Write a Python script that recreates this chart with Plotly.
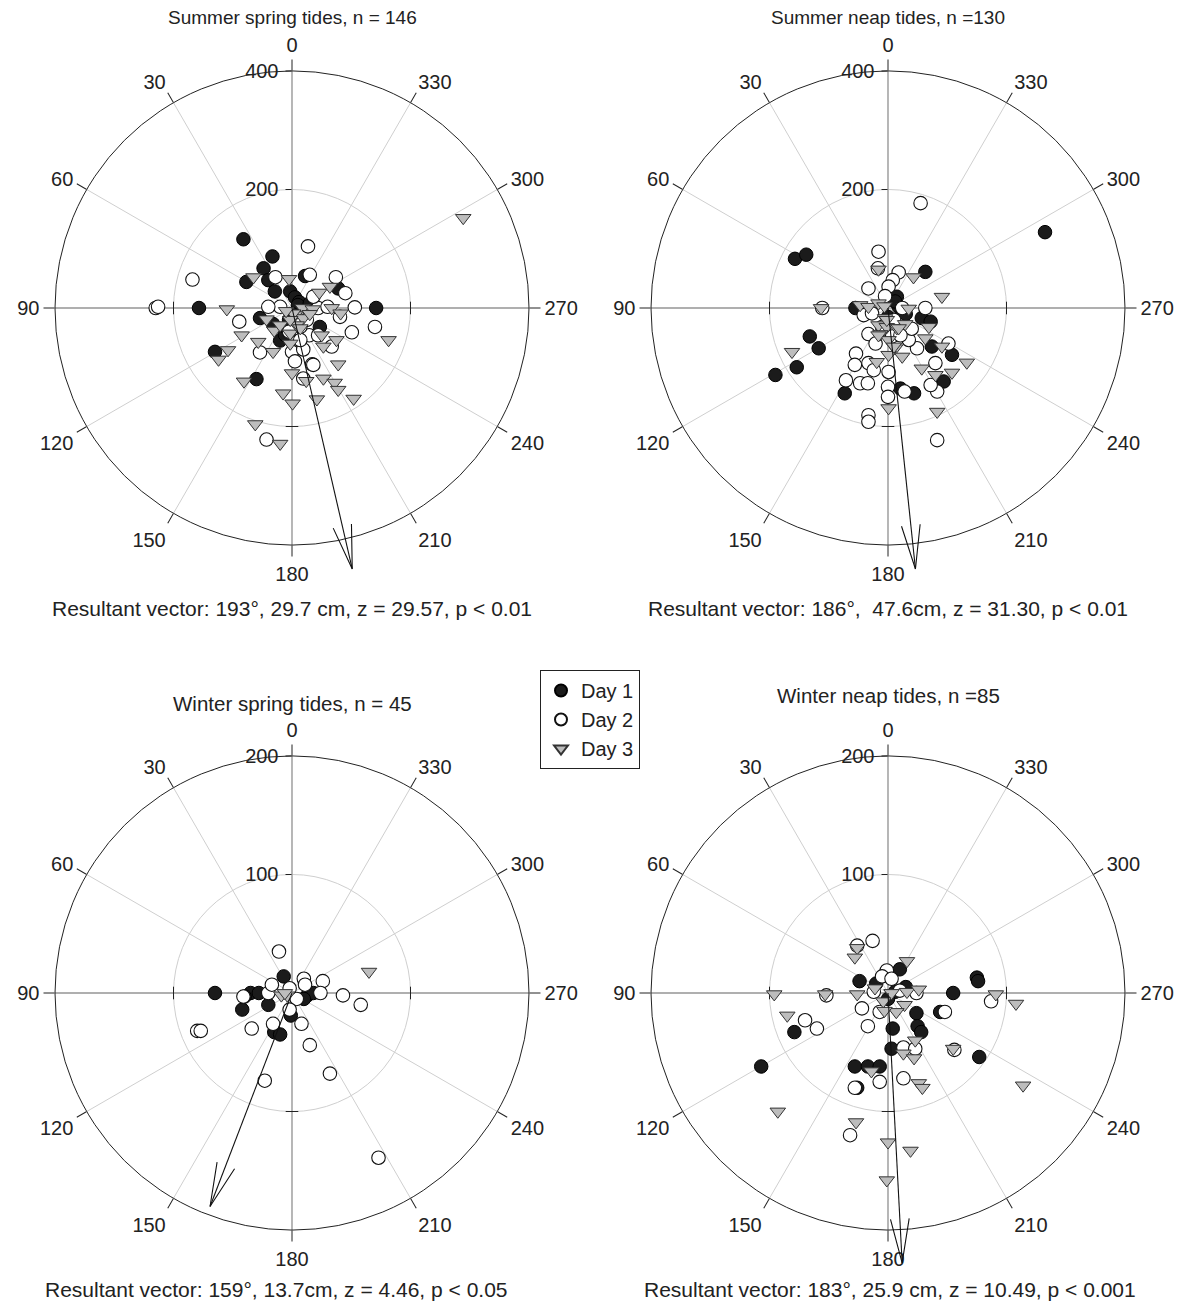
import numpy as np
import plotly.graph_objects as go

FONT = "Liberation Sans, Arial, Helvetica, sans-serif"
OFF = 8                      # page body margin of the rendered html
W, H = 1187 - OFF, 1303 - OFF

# ---------------- data ----------------
# Each point is a displacement: x toward 270 deg (right), y toward 0 deg (up), in axis units (cm)

# Summer spring tides
ss_d1_x = [-82, -33, -48, -77, -40, -29, -3, 5, 12, 22, 78, -157, 142, -54, -32, 47, -20, -12, -130, -60, 10, 30, -5, -8, 0]
ss_d1_y = [116, 87, 67, 44, 47, 28, 28, 18, 10, 54, 33, 0, 0, -17, -27, -32, -55, -45, -74, -120, 5, 8, -20, -35, -10]
ss_d2_x = [27, -168, -230, -226, -28, 30, 74, 90, 106, -89, 140, 101, 81, 44, 36, -20, -40, -54, 0, 19, 29, 34, 67, 19, -43,
           14, 14, 36, 44, 60, 10, 20, -5, 5, 25]
ss_d2_y = [104, 48, 0, 2, 52, 56, 52, 25, 1, -23, -32, -41, -15, 0, 19, 2, 2, -75, -74, -70, -46, -95, -65, -119, -222,
           -32, -54, -96, -46, 2, -15, -10, -40, -90, -20]
ss_d3_x = [-65, -5, 46, 64, -110, 18, 35, 67, 82, -43, -30, -85, -57, -32, -108, -124, -81, 0, 24, 53, 72, 78, 78, 104, 42,
           -15, 1, -62, -20, 50, 53, 75, 163, -3, 5, 19, 8, -20, -3, 2, 14, -3, 289, 30, -10]
ss_d3_y = [52, 49, 26, 36, -2, 0, -2, 0, -9, -19, -38, -46, -57, -74, -71, -87, -124, -110, -123, -119, -126, -95, -138, -153, -154,
           -144, -161, -196, -229, -46, -65, -54, -54, -43, -12, -17, -29, -29, -60, -9, -34, -20, 152, -10, -5]

# Summer neap tides
sn_d1_x = [-157, -138, 63, -55, 15, 18, 12, 25, 57, 72, 74, 108, 94, 21, 44, -73, -132, -117, -154, -190, 265, 30, 0]
sn_d1_y = [83, 90, 61, 0, 19, 2, 11, -5, -17, -23, -65, -79, -124, -136, -144, -144, -48, -68, -100, -113, 128, -10, -15]
sn_d2_x = [55, -16, -17, 18, 8, 1, -33, -41, 63, 24, -111, -33, -21, -54, -56, -33, -24, -71, -47, -34, 1, 0, 0, 28, 49,
           35, 102, 80, 83, 72, -33, -33, 83, 40, -10, 7, 21, -27, -5, 10]
sn_d2_y = [177, 95, 67, 60, 47, 36, 33, -12, 0, 0, 0, -44, -60, -77, -96, -93, -105, -122, -127, -127, -108, -133, -150, -141, -68,
           -54, -60, -93, -141, -130, -181, -192, -223, -35, -32, -48, -46, -9, 20, -20]
sn_d3_x = [-16, 43, 91, -113, -47, -33, -16, -6, 35, -5, -16, -2, 15, 29, -13, 1, 12, 24, -19, 1, 69, 63, 91, 133, 57,
           80, 108, 1, 83, -162, -2, 18, -16, 10]
sn_d3_y = [65, 52, 19, 0, 5, 2, 8, 3, -1, -17, -29, -32, -34, -27, -44, -54, -68, -82, -91, -79, -32, -51, -65, -92, -102,
           -113, -109, -169, -175, -74, -20, -34, -46, -65]

# Winter spring tides
ws_d1_x = [-65, -35, -28, -42, -20, -7, 13, 18, -1, -15, -10, 10, -40]
ws_d1_y = [0, 0, 0, -14, -10, 14, -2, 0, -19, -33, -35, -5, -3]
ws_d2_x = [-11, 10, 11, 26, 24, 43, 58, -41, -20, -17, 4, -2, 8, -16, -34, -80, -77, 15, 32, -23, 73, -2]
ws_d2_y = [35, 12, 7, 10, 0, -2, -10, -3, 0, 7, -5, -14, -26, -26, -30, -32, -32, -44, -68, -74, -139, 4]
ws_d3_x = [-9, -4, 65, -6]
ws_d3_y = [-2, -2, 18, 0]

# Winter neap tides
wn_d1_x = [10, -24, -10, 6, 55, 75, 76, 24, 4, 25, 28, 3, -79, -107, 77, -28, -17, -7, 44, -26, 15, 0]
wn_d1_y = [20, 10, 8, 1, 0, 13, 10, -17, -30, -28, -33, -47, -33, -62, -54, -62, -62, -62, -16, -80, 5, -5]
wn_d2_x = [-13, -26, -1, -5, 3, -12, -52, 24, 87, 48, -22, -7, -17, -70, -60, 13, 23, 13, -7, -28, -32, 56, 10]
wn_d2_y = [44, 40, 19, 14, 12, 1, -2, 0, -7, -16, -13, -16, -28, -23, -30, -46, -47, -72, -75, -80, -120, -48, 2]
wn_d3_x = [-26, -28, 16, -96, -53, -26, -11, 3, 16, 26, -4, 14, 7, -3, 91, 108, -85, 23, 13, 22, 55, -14, 26, 29, 114,
           -93, -27, 0, 19, -1]
wn_d3_y = [38, 30, 27, -1, -1, -1, 4, 0, 1, 3, -7, -10, -16, -15, -1, -9, -19, -40, -51, -55, -47, -66, -76, -80, -78,
           -100, -109, -126, -133, -158]

panel_titles = ["Summer spring tides, n = 146", "Summer neap tides, n =130",
                "Winter spring tides, n = 45", "Winter neap tides, n =85"]
panel_captions = ["Resultant vector: 193°, 29.7 cm, z = 29.57, p < 0.01",
                  "Resultant vector: 186°,  47.6cm, z = 31.30, p < 0.01",
                  "Resultant vector: 159°, 13.7cm, z = 4.46, p < 0.05",
                  "Resultant vector: 183°, 25.9 cm, z = 10.49, p < 0.001"]
panel_rmax = [400, 400, 200, 200]
panel_ring = [200, 200, 100, 100]
vector_angle = [193, 186, 159, 183]        # degrees
vector_draw_r = [452, 443, 193, 228]       # drawn arrow length (axis units)
angle_ticks = list(range(0, 360, 30))
day_names = ["Day 1", "Day 2", "Day 3"]

panels_x = [[ss_d1_x, ss_d2_x, ss_d3_x], [sn_d1_x, sn_d2_x, sn_d3_x],
            [ws_d1_x, ws_d2_x, ws_d3_x], [wn_d1_x, wn_d2_x, wn_d3_x]]
panels_y = [[ss_d1_y, ss_d2_y, ss_d3_y], [sn_d1_y, sn_d2_y, sn_d3_y],
            [ws_d1_y, ws_d2_y, ws_d3_y], [wn_d1_y, wn_d2_y, wn_d3_y]]

# ---------------- layout geometry (screen pixels) ----------------
centers = [(292, 308), (888, 308), (292, 993), (888, 993)]
title_px = [292, 888, 292, 888]
title_py = [18, 18, 703, 695]
caption_px = [292, 888, 276, 890]
caption_py = [608, 608, 1289, 1289]
title_size = [19, 19, 20.5, 20.5]
caption_size = [21, 21, 21, 21]
tick_size = [20, 20, 20, 20]
R_MAIN = 237
R_OVER = 282


def px(sx):
    return (sx - OFF) / W


def py(sy):
    return 1 - (sy - OFF) / H


def dom(cx, cy, R):
    return dict(x=[px(cx - R), px(cx + R)], y=[py(cy + R), py(cy - R)])


def to_polar(xs, ys):
    x = np.asarray(xs, float)
    y = np.asarray(ys, float)
    r = np.hypot(x, y)
    th = np.degrees(np.arctan2(-x, y)) % 360
    return r, th


def from_polar(r, th):
    t = np.radians(th)
    return -r * np.sin(t), r * np.cos(t)


day_styles = [
    dict(symbol="circle", size=13.5, color="#1b1b1b", line=dict(color="#000000", width=1)),
    dict(symbol="circle", size=13.5, color="#ffffff", line=dict(color="#111111", width=1.1)),
    dict(symbol="triangle-down", size=13.5, color="#bdbdbd", line=dict(color="#333333", width=1)),
]

fig = go.Figure()
polars = {}
for i in range(4):
    sp = "polar" if i == 0 else f"polar{i + 1}"
    spo = f"polar{i + 5}"
    rmax = panel_rmax[i]
    ring = panel_ring[i]
    cx, cy = centers[i]

    # main axes (darker crosshair)
    fig.add_trace(go.Scatterpolar(r=[rmax, 0, rmax], theta=[0, 0, 180], mode="lines",
                                  line=dict(color="#9c9c9c", width=1.3), subplot=sp,
                                  showlegend=False, hoverinfo="skip"))
    fig.add_trace(go.Scatterpolar(r=[rmax, 0, rmax], theta=[90, 90, 270], mode="lines",
                                  line=dict(color="#9c9c9c", width=1.3), subplot=sp,
                                  showlegend=False, hoverinfo="skip"))
    # small ticks where the inner ring meets the main axes
    fig.add_trace(go.Scatterpolar(r=[ring, ring], theta=[90, 270], mode="markers",
                                  marker=dict(symbol="line-ns", size=9, line=dict(color="#222", width=1)),
                                  subplot=sp, showlegend=False, hoverinfo="skip"))
    fig.add_trace(go.Scatterpolar(r=[ring], theta=[180], mode="markers",
                                  marker=dict(symbol="line-ew", size=9, line=dict(color="#222", width=1)),
                                  subplot=sp, showlegend=False, hoverinfo="skip"))

    for d in range(3):
        r, th = to_polar(panels_x[i][d], panels_y[i][d])
        st = day_styles[d]
        fig.add_trace(go.Scatterpolar(
            r=r, theta=th, mode="markers", name=day_names[d], legendgroup=day_names[d],
            showlegend=(i == 0), subplot=sp,
            marker=dict(symbol=st["symbol"], size=st["size"], color=st["color"], line=st["line"])))

    # resultant vector arrow (overlay polar with a larger extent)
    ang = vector_angle[i]
    rt = vector_draw_r[i]
    tx, ty = from_polar(rt, ang)
    head_len = 0.19 * rmax
    ux, uy = -tx / rt, -ty / rt
    pts = []
    for sgn in (-1, 1):
        a = np.radians(12 * sgn)
        bx = tx + head_len * (ux * np.cos(a) - uy * np.sin(a))
        by = ty + head_len * (ux * np.sin(a) + uy * np.cos(a))
        pts.append(to_polar([bx], [by]))
    fig.add_trace(go.Scatterpolar(r=[0, rt], theta=[ang, ang], mode="lines",
                                  line=dict(color="#111", width=1.1), subplot=spo,
                                  showlegend=False, hoverinfo="skip"))
    fig.add_trace(go.Scatterpolar(r=[pts[0][0][0], rt, pts[1][0][0]],
                                  theta=[pts[0][1][0], ang, pts[1][1][0]], mode="lines",
                                  line=dict(color="#111", width=1.1), subplot=spo,
                                  showlegend=False, hoverinfo="skip"))

    polars[sp] = dict(
        domain=dom(cx, cy, R_MAIN), bgcolor="rgba(0,0,0,0)",
        angularaxis=dict(rotation=90, direction="counterclockwise", tickmode="array",
                         tickvals=angle_ticks, ticktext=[str(v) for v in angle_ticks],
                         ticks="outside", ticklen=11, tickwidth=1, tickcolor="#222",
                         showline=True, linecolor="#222", linewidth=1,
                         showgrid=True, gridcolor="#cfcfcf", gridwidth=1,
                         tickfont=dict(size=tick_size[i], color="#222", family=FONT)),
        radialaxis=dict(range=[0, rmax], tickmode="array", tickvals=[ring, rmax],
                        ticktext=[str(ring), str(rmax)], angle=90, tickangle=90,
                        side="counterclockwise", ticks="outside", ticklen=6, tickcolor="#222",
                        showline=False, showgrid=True, gridcolor="#cfcfcf", gridwidth=1,
                        tickfont=dict(size=tick_size[i], color="#222", family=FONT)),
    )
    polars[spo] = dict(
        domain=dom(cx, cy, R_OVER), bgcolor="rgba(0,0,0,0)",
        angularaxis=dict(visible=False, rotation=90, direction="counterclockwise"),
        radialaxis=dict(visible=False, range=[0, rmax * R_OVER / R_MAIN]),
    )

annotations = []
for i in range(4):
    annotations.append(dict(x=px(title_px[i]), y=py(title_py[i]), xref="paper", yref="paper",
                            text=panel_titles[i], showarrow=False, xanchor="center", yanchor="middle",
                            font=dict(size=title_size[i], color="#222", family=FONT)))
    annotations.append(dict(x=px(caption_px[i]), y=py(caption_py[i]), xref="paper", yref="paper",
                            text=panel_captions[i], showarrow=False, xanchor="center", yanchor="middle",
                            font=dict(size=caption_size[i], color="#222", family=FONT)))

fig.update_layout(
    width=W, height=H, autosize=False,
    margin=dict(l=0, r=0, t=0, b=0),
    paper_bgcolor="white", plot_bgcolor="white",
    font=dict(family=FONT, size=18, color="#222"),
    annotations=annotations,
    legend=dict(x=px(540), y=py(670), xanchor="left", yanchor="top",
                bordercolor="#222", borderwidth=1, bgcolor="white",
                font=dict(size=20, family=FONT, color="#222"), itemsizing="constant",
                entrywidth=72, entrywidthmode="pixels", tracegroupgap=0),
    **polars,
)

fig.write_html("out.html")
